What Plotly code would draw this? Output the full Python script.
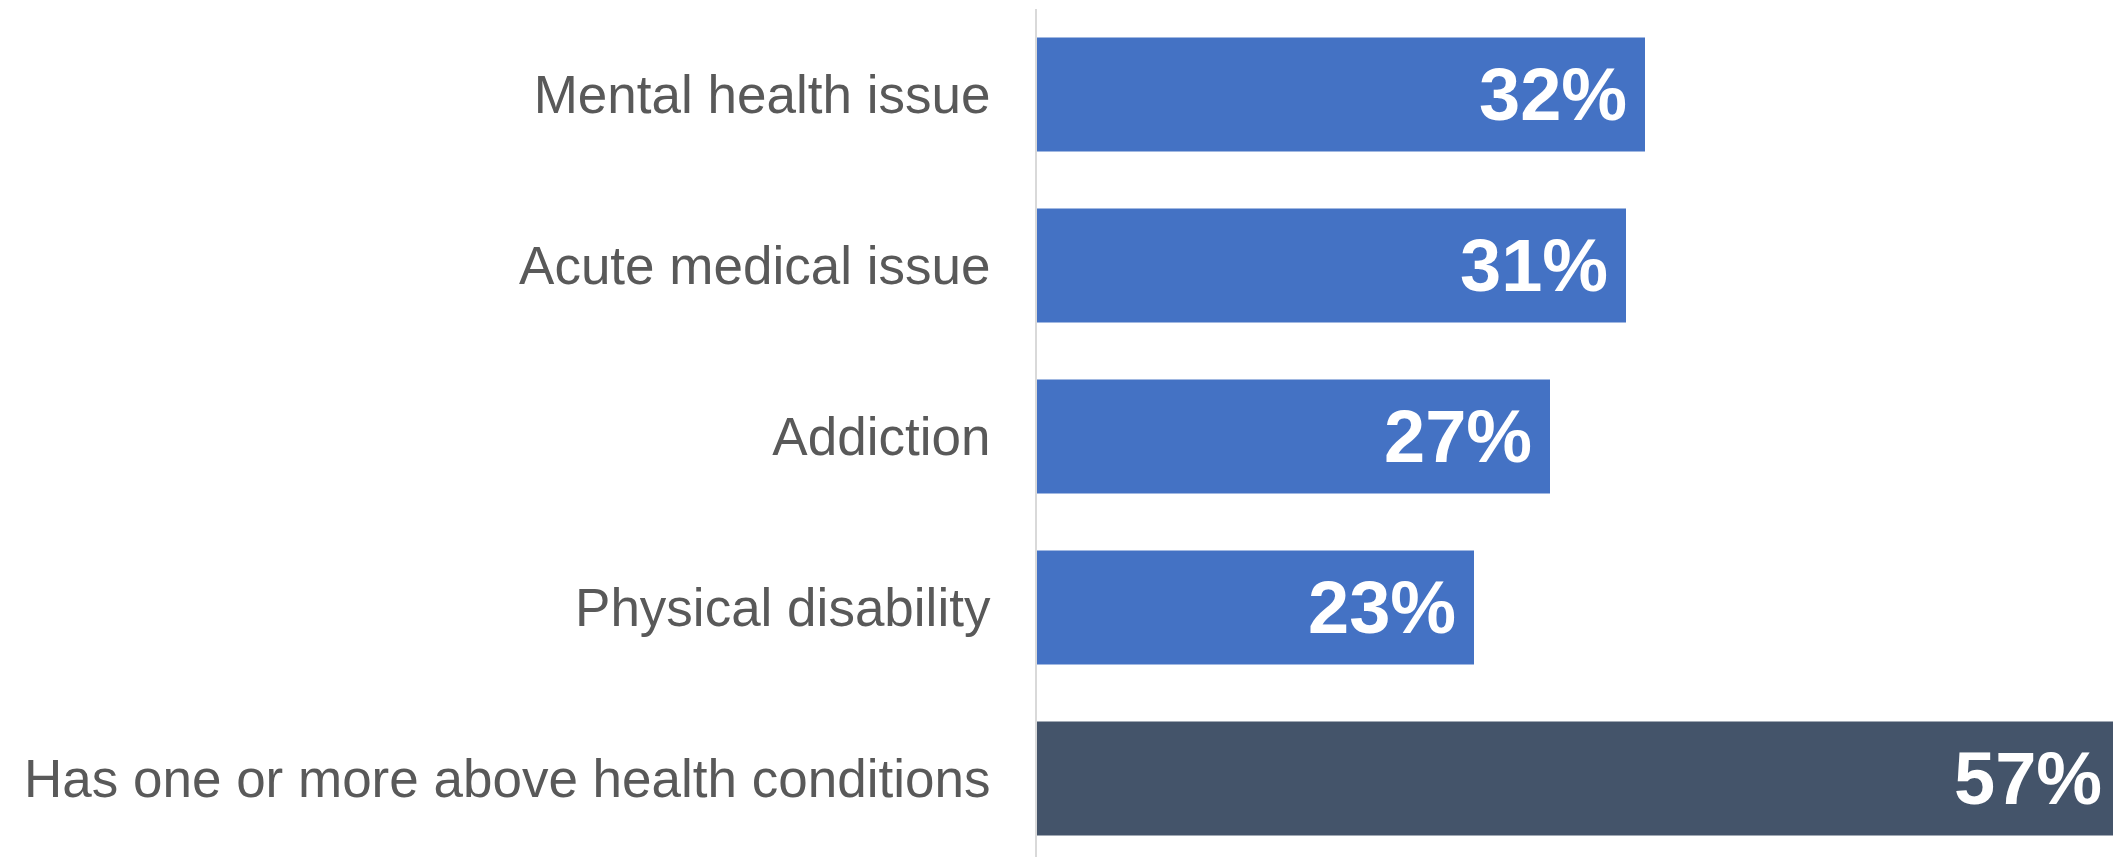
import plotly.graph_objects as go

# Share of respondents with each health condition (%)
categories = [
    "Mental health issue",
    "Acute medical issue",
    "Addiction",
    "Physical disability",
    "Has one or more above health conditions",
]
values = [32, 31, 27, 23, 57]
bar_colors = ["#4472C4", "#4472C4", "#4472C4", "#4472C4", "#44546A"]

W, H = 2113, 857
M_LEFT, M_TOP = 1037, 9
PX_PER_PCT = 19.0          # horizontal scale
SLOT_PX = 171              # height of one category band

plot_w = W - M_LEFT
plot_h = H - M_TOP

fig = go.Figure(
    go.Bar(
        x=values,
        y=categories,
        orientation="h",
        marker=dict(color=bar_colors, line=dict(width=0)),
        texttemplate="%{x}%\u2009",
        textposition="inside",
        insidetextanchor="end",
        textangle=0,
        insidetextfont=dict(family="Liberation Sans, Arial, sans-serif",
                            size=74, color="white", weight="bold"),
        cliponaxis=True,
        hoverinfo="skip",
    )
)

fig.update_layout(
    width=W,
    height=H,
    margin=dict(l=M_LEFT, r=0, t=M_TOP, b=0, pad=0),
    paper_bgcolor="white",
    plot_bgcolor="white",
    bargap=1 - 114 / SLOT_PX,
    showlegend=False,
    font=dict(family="Liberation Sans, Arial, sans-serif", color="#595959"),
)

fig.update_xaxes(
    range=[0, plot_w / PX_PER_PCT],
    visible=False,
    showgrid=False,
    zeroline=False,
)

fig.update_yaxes(
    type="category",
    categoryorder="array",
    categoryarray=categories,
    range=[-0.5 + plot_h / SLOT_PX, -0.5],
    showgrid=False,
    zeroline=False,
    showline=True,
    linecolor="#D9D9D9",
    linewidth=2,
    ticks="",
    ticklabelstandoff=34,
    tickfont=dict(size=53, color="#595959",
                  family="Liberation Sans, Arial, sans-serif"),
)

fig.write_html("out.html")
